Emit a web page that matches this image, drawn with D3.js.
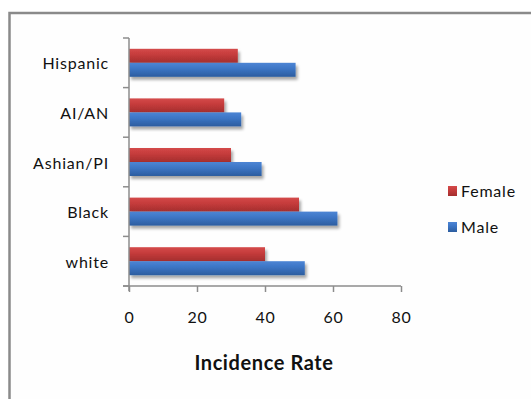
<!DOCTYPE html>
<html><head><meta charset="utf-8">
<script src="https://cdn.jsdelivr.net/npm/d3@7/dist/d3.min.js"></script>
<style>
html,body{margin:0;padding:0;background:#fff;}
svg{display:block;}
text{font-family:Lato,"Open Sans",sans-serif;fill:#111;}
</style></head>
<body>
<script>
const categories = ["Hispanic", "AI/AN", "Ashian/PI", "Black", "white"];
const seriesNames = ["Female", "Male"];
const femaleValues = [32, 28, 30, 50, 40];
const maleValues = [49, 33, 39, 61.3, 51.7];
const xTicks = [0, 20, 40, 60, 80];
const xTitle = "Incidence Rate";

const W = 531, H = 399;
const svg = d3.select("body").append("svg").attr("width", W).attr("height", H);
const defs = svg.append("defs");
function grad(id, c1, c2, c3) {
  const g = defs.append("linearGradient").attr("id", id).attr("x1", 0).attr("y1", 0).attr("x2", 0).attr("y2", 1);
  g.append("stop").attr("offset", "0%").attr("stop-color", c1);
  g.append("stop").attr("offset", "40%").attr("stop-color", c2);
  g.append("stop").attr("offset", "100%").attr("stop-color", c3);
}
grad("gF", "#d44a4a", "#c63c3c", "#a42e2e");
grad("gM", "#4d85d4", "#3d76c6", "#2c5d9f");
const f = defs.append("filter").attr("id", "sh").attr("x", "-10%").attr("y", "-20%").attr("width", "130%").attr("height", "160%");
f.append("feGaussianBlur").attr("in", "SourceAlpha").attr("stdDeviation", 1.6).attr("result", "b");
f.append("feOffset").attr("in", "b").attr("dx", 1.5).attr("dy", 2.5).attr("result", "o");
f.append("feComponentTransfer").attr("in", "o").attr("result", "o2")
  .append("feFuncA").attr("type", "linear").attr("slope", 0.35);
const m = f.append("feMerge");
m.append("feMergeNode").attr("in", "o2");
m.append("feMergeNode").attr("in", "SourceGraphic");

// frame
svg.append("rect").attr("x", 9.5).attr("y", 13).attr("width", 540).attr("height", 400)
  .attr("fill", "#fefefe").attr("stroke", "#8a8a8a").attr("stroke-width", 2.5);

const x0 = 129, x1 = 401, yTop = 38, yBot = 286;
const x = d3.scaleLinear().domain([0, 80]).range([x0, x1]);
const y = d3.scaleBand().domain(categories).range([yTop, yBot]).paddingInner(0).paddingOuter(0);
const barH = 14;
const subY = name => (y.bandwidth() - 2 * barH) / 2 + seriesNames.indexOf(name) * barH;

const data = categories.map((c, i) => ({c, Female: femaleValues[i], Male: maleValues[i]}));
const gBars = svg.append("g");
data.forEach(d => {
  seriesNames.forEach(s => {
    gBars.append("rect")
      .attr("x", x(0))
      .attr("y", y(d.c) + subY(s))
      .attr("width", x(d[s]) - x(0))
      .attr("height", barH)
      .attr("fill", s === "Female" ? "url(#gF)" : "url(#gM)")
      .attr("filter", "url(#sh)");
  });
});

// axes
const axisColor = "#8c8c8c";
const yAx = svg.append("g");
yAx.append("line").attr("x1", x0).attr("x2", x0).attr("y1", yTop).attr("y2", yBot + 5)
  .attr("stroke", axisColor).attr("stroke-width", 1.5);
const bounds = categories.map(c => y(c)).concat([yBot]);
yAx.selectAll("line.t").data(bounds).enter().append("line").attr("class", "t")
  .attr("x1", x0 - 6).attr("x2", x0).attr("y1", d => d).attr("y2", d => d)
  .attr("stroke", axisColor).attr("stroke-width", 1.5);
yAx.selectAll("text").data(categories).enter().append("text")
  .attr("x", 109).attr("y", d => y(d) + y.bandwidth() / 2)
  .attr("text-anchor", "end").attr("dominant-baseline", "central")
  .style("font-size", "16px").style("letter-spacing", "0.8px")
  .text(d => d);

const xAxis = d3.axisBottom(x).tickValues(xTicks).tickSize(6).tickPadding(20).tickFormat(d3.format("d"));
const xg = svg.append("g").attr("transform", `translate(0,${yBot})`).call(xAxis);
xg.select(".domain").attr("stroke", axisColor).attr("stroke-width", 1.5).attr("d", `M${x0 - 6},0H${x1}`);
xg.selectAll(".tick line").attr("stroke", axisColor).attr("stroke-width", 1.5);
xg.selectAll(".tick text").style("font-size", "16px").style("font-family", "Lato, sans-serif")
  .style("letter-spacing", "0.8px").attr("fill", "#111");

svg.append("text").attr("x", 264).attr("y", 370).attr("text-anchor", "middle")
  .style("font-size", "20px").style("font-weight", "bold").style("letter-spacing", "0.6px")
  .text(xTitle);

// legend
const leg = svg.append("g");
const legY = [197, 233];
seriesNames.forEach((s, i) => {
  leg.append("rect").attr("x", 448).attr("y", legY[i] - 11).attr("width", 9).attr("height", 10)
    .attr("fill", s === "Female" ? "url(#gF)" : "url(#gM)");
  leg.append("text").attr("x", 461).attr("y", legY[i])
    .style("font-size", "16px").style("letter-spacing", "0.8px").text(s);
});
</script>
</body></html>
